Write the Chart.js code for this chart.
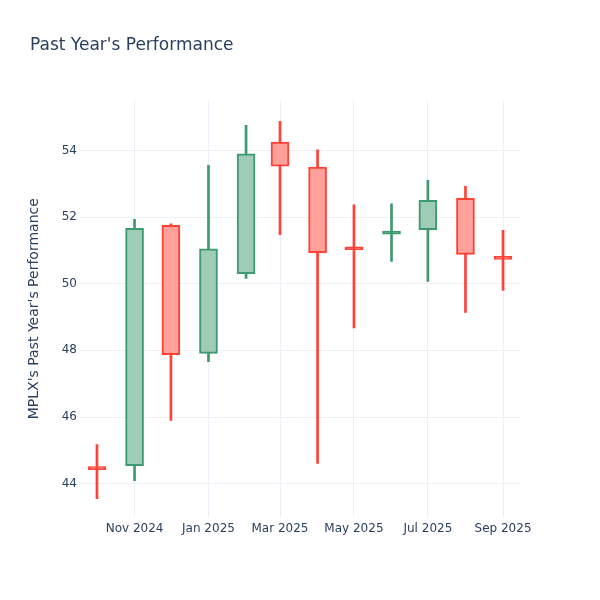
<!DOCTYPE html>
<html>
<head>
<meta charset="utf-8">
<script src="https://cdn.jsdelivr.net/npm/chart.js@4.4.1/dist/chart.umd.min.js"></script>
<style>
  body { margin: 0; background: #fff; }
</style>
</head>
<body>
<canvas id="chart" width="600" height="600"></canvas>
<script>
// monthly candles
const months = ["2024-10-01", "2024-11-01", "2024-12-01", "2025-01-01", "2025-02-01", "2025-03-01",
  "2025-04-01", "2025-05-01", "2025-06-01", "2025-07-01", "2025-08-01", "2025-09-01"];
const openVals = [44.45, 44.54, 51.75, 47.91, 50.30, 54.25, 53.50, 51.06, 51.49, 51.62, 52.56, 50.76];
const highVals = [45.17, 51.93, 51.80, 53.55, 54.75, 54.87, 54.02, 52.37, 52.40, 53.10, 52.92, 51.60];
const lowVals = [43.55, 44.09, 45.90, 47.66, 50.16, 51.47, 44.61, 48.67, 50.67, 50.07, 49.14, 49.80];
const closeVals = [44.42, 51.66, 47.87, 51.05, 53.90, 53.53, 50.93, 51.02, 51.51, 52.50, 50.88, 50.73];

const xTickDates = ["2024-11-01", "2025-01-01", "2025-03-01", "2025-05-01", "2025-07-01", "2025-09-01"];
const yTicks = [44, 46, 48, 50, 52, 54];

const monthNames = ["Jan", "Feb", "Mar", "Apr", "May", "Jun", "Jul", "Aug", "Sep", "Oct", "Nov", "Dec"];
const toDay = (s) => Date.parse(s + "T00:00:00Z") / 864e5;
const fmtDay = (d) => {
  const dt = new Date(d * 864e5);
  return monthNames[dt.getUTCMonth()] + " " + dt.getUTCFullYear();
};

const up = closeVals.map((c, i) => c >= openVals[i]);
const lineCol = up.map((u) => (u ? "#3D9970" : "#FF4136"));
// doji bodies are only a stroke, so fill them with the line colour
const fillCol = up.map((u, i) =>
  Math.abs(closeVals[i] - openVals[i]) < 0.1 ? lineCol[i] : (u ? "#9eccb7" : "#ffa09b"));

const fontFam = "'DejaVu Sans', sans-serif";
const textCol = "#2a3f5f";
const gridCol = "#ebf0f8";

new Chart(document.getElementById("chart"), {
  type: "bar",
  data: {
    datasets: [
      {
        // wicks
        data: months.map((m, i) => ({ x: toDay(m), y: [lowVals[i], highVals[i]] })),
        backgroundColor: lineCol,
        barThickness: 2,
        grouped: false,
        order: 2
      },
      {
        // bodies
        data: months.map((m, i) => ({ x: toDay(m), y: [openVals[i], closeVals[i]] })),
        backgroundColor: fillCol,
        borderColor: lineCol,
        borderWidth: 2,
        borderSkipped: false,
        barThickness: 18,
        minBarLength: 3,
        grouped: false,
        order: 1
      }
    ]
  },
  options: {
    responsive: false,
    animation: false,
    layout: { padding: { left: 30, right: 80, top: 0, bottom: 0 } },
    plugins: {
      legend: { display: false },
      tooltip: { enabled: false },
      title: {
        display: true,
        text: "Past Year's Performance",
        align: "start",
        color: textCol,
        font: { family: fontFam, size: 17, weight: "normal" },
        padding: { top: 35, bottom: 45 }
      }
    },
    scales: {
      x: {
        type: "linear",
        offset: false,
        min: toDay("2024-09-17"),
        max: toDay("2025-09-15"),
        afterBuildTicks: (scale) => {
          scale.ticks = xTickDates.map((d) => ({ value: toDay(d) }));
        },
        afterFit: (scale) => { scale.height = 83; },
        border: { display: false },
        grid: { color: gridCol, drawTicks: false, offset: false },
        ticks: {
          color: textCol,
          padding: 5,
          maxRotation: 0,
          font: { family: fontFam, size: 12 },
          callback: (v) => fmtDay(v)
        }
      },
      y: {
        min: 43,
        max: 55.5,
        afterBuildTicks: (scale) => {
          scale.ticks = yTicks.map((v) => ({ value: v }));
        },
        afterFit: (scale) => { scale.width = 50; },
        border: { display: false },
        grid: { color: gridCol, drawTicks: false },
        ticks: {
          color: textCol,
          padding: 3,
          font: { family: fontFam, size: 12 }
        },
        title: {
          display: true,
          text: "MPLX's Past Year's Performance",
          color: textCol,
          padding: { top: -4, bottom: 0 },
          font: { family: fontFam, size: 14 }
        }
      }
    }
  }
});
</script>
</body>
</html>
